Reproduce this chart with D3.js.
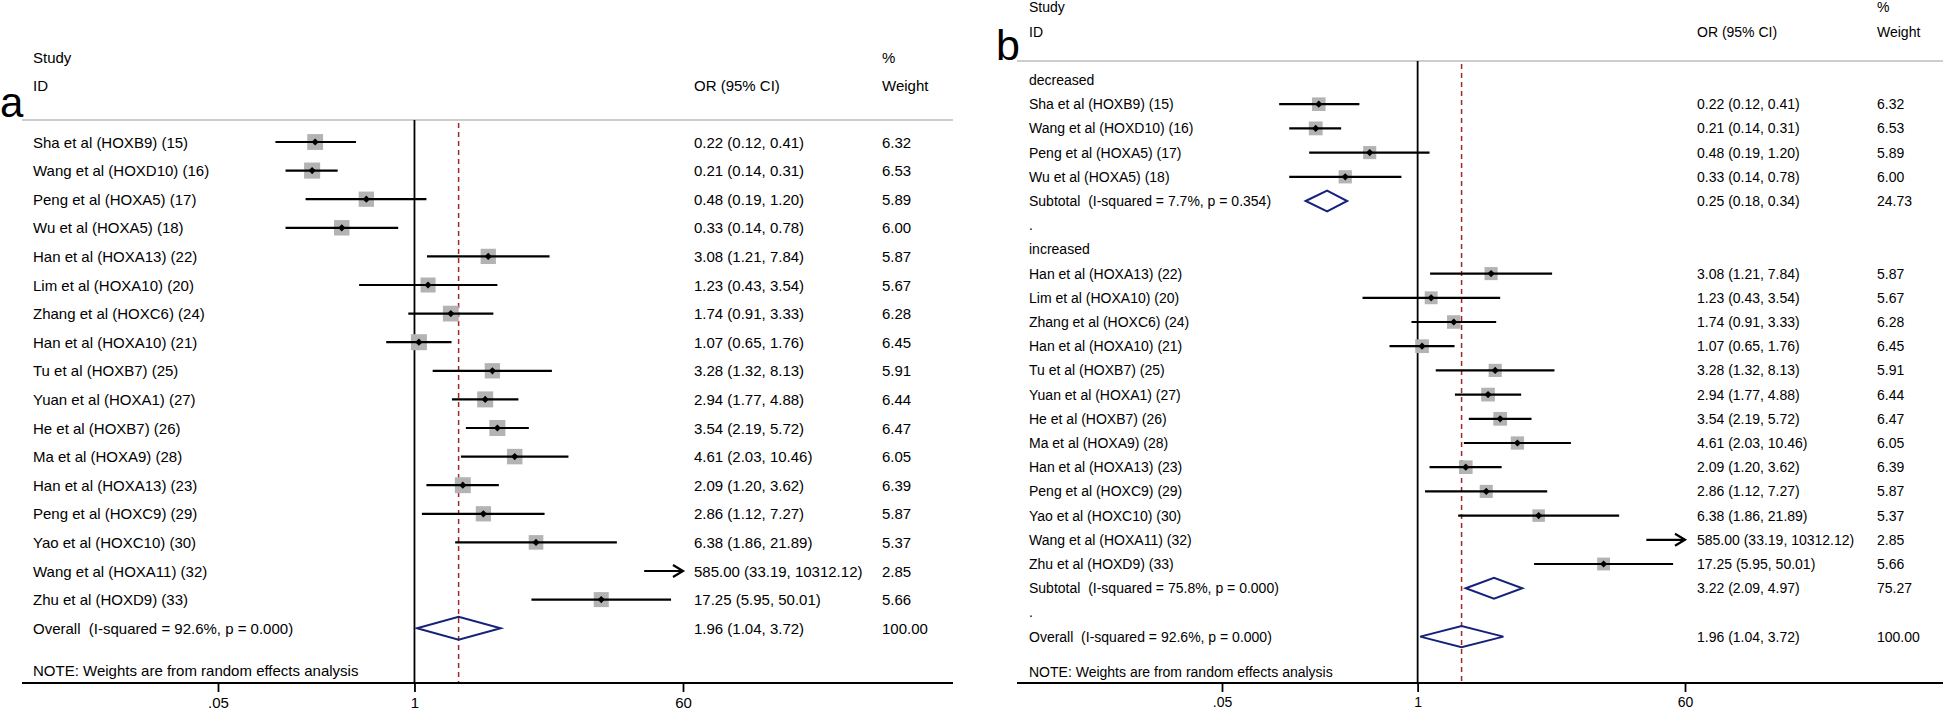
<!DOCTYPE html>
<html>
<head>
<meta charset="utf-8">
<script src="https://cdn.jsdelivr.net/npm/d3@7"></script>
<style>
  html, body { margin: 0; padding: 0; background: #fff; }
  svg text { font-family: "Liberation Sans", Arial, Helvetica, sans-serif; fill: #000; white-space: pre; }
</style>
</head>
<body>
<svg id="chart" width="1946" height="713"></svg>
<script>
// ---------------- DATA ----------------
const studies = [
  "Sha et al (HOXB9) (15)", "Wang et al (HOXD10) (16)", "Peng et al (HOXA5) (17)", "Wu et al (HOXA5) (18)",
  "Han et al (HOXA13) (22)", "Lim et al (HOXA10) (20)", "Zhang et al (HOXC6) (24)", "Han et al (HOXA10) (21)",
  "Tu et al (HOXB7) (25)", "Yuan et al (HOXA1) (27)", "He et al (HOXB7) (26)", "Ma et al (HOXA9) (28)",
  "Han et al (HOXA13) (23)", "Peng et al (HOXC9) (29)", "Yao et al (HOXC10) (30)", "Wang et al (HOXA11) (32)",
  "Zhu et al (HOXD9) (33)"
];
const orValues = [0.22, 0.21, 0.48, 0.33, 3.08, 1.23, 1.74, 1.07, 3.28, 2.94, 3.54, 4.61, 2.09, 2.86, 6.38, 585.00, 17.25];
const ciLower  = [0.12, 0.14, 0.19, 0.14, 1.21, 0.43, 0.91, 0.65, 1.32, 1.77, 2.19, 2.03, 1.20, 1.12, 1.86, 33.19, 5.95];
const ciUpper  = [0.41, 0.31, 1.20, 0.78, 7.84, 3.54, 3.33, 1.76, 8.13, 4.88, 5.72, 10.46, 3.62, 7.27, 21.89, 10312.12, 50.01];
const weights  = [6.32, 6.53, 5.89, 6.00, 5.87, 5.67, 6.28, 6.45, 5.91, 6.44, 6.47, 6.05, 6.39, 5.87, 5.37, 2.85, 5.66];
const studyGroup = ["decreased","decreased","decreased","decreased",
  "increased","increased","increased","increased","increased","increased","increased","increased","increased",
  "increased","increased","increased","increased"];

const groups = ["decreased", "increased"];
const subOR = [0.25, 3.22];
const subLower = [0.18, 2.09];
const subUpper = [0.34, 4.97];
const subWeight = [24.73, 75.27];
const subI2 = ["7.7%", "75.8%"];
const subP = ["0.354", "0.000"];

const overallOR = 1.96, overallLower = 1.04, overallUpper = 3.72, overallWeight = 100.00;
const overallI2 = "92.6%", overallP = "0.000";

const tickValues = [0.05, 1, 60];
const tickLabels = [".05", "1", "60"];
const noteText = "NOTE: Weights are from random effects analysis";

// ---------------- LAYOUT ----------------
const svg = d3.select("#chart");
const f2 = d3.format(".2f");
const orText = (o, l, u) => `${f2(o)} (${f2(l)}, ${f2(u)})`;

const panels = [
  { label: "a", labelX: 0, labelY: 117, labelSize: 42,
    x0: 22, x1: 953, lineY: 120, axisY: 683, textX: 33, orX: 694, wX: 882, fs: 15,
    headY: [57, 85], rowY0: 142, rowStep: 28.6, sqK: 6.3, dh: 11.5, range: [218, 683], noteY: 670,
    grouped: false },
  { label: "b", labelX: 996, labelY: 60, labelSize: 43,
    x0: 1017, x1: 1943, lineY: 61, axisY: 683, textX: 1029, orX: 1697, wX: 1877, fs: 14,
    headY: [7, 32], rowY0: 80, rowStep: 24.2, sqK: 5.4, dh: 10.5, range: [1222, 1685], noteY: 672,
    grouped: true }
];

const navy = "#16217a";
const maroon = "#a3262c";

panels.forEach(P => {
  const g = svg.append("g");
  const x = d3.scaleLog().domain([tickValues[0], tickValues[tickValues.length - 1]]).range(P.range);
  const [dMin, dMax] = x.domain();

  // build rows
  const rows = [];
  if (!P.grouped) {
    studies.forEach((s, i) => rows.push({ type: "study", i }));
    rows.push({ type: "overall" });
  } else {
    groups.forEach((gr, gi) => {
      rows.push({ type: "group", label: gr });
      studies.forEach((s, i) => { if (studyGroup[i] === gr) rows.push({ type: "study", i }); });
      rows.push({ type: "subtotal", gi });
      rows.push({ type: "dot" });
    });
    rows.push({ type: "overall" });
  }
  rows.forEach((r, k) => r.y = P.rowY0 + P.rowStep * k);

  // panel letter
  g.append("text").attr("x", P.labelX).attr("y", P.labelY)
    .style("font-size", P.labelSize + "px").text(P.label);

  // headers
  const txt = (xx, yy, t, anchor) => g.append("text").attr("x", xx).attr("y", yy)
    .attr("dominant-baseline", "central").attr("text-anchor", anchor || "start")
    .style("font-size", P.fs + "px").text(t);
  txt(P.textX, P.headY[0], "Study");
  txt(P.textX, P.headY[1], "ID");
  txt(P.orX, P.headY[1], "OR (95% CI)");
  txt(P.wX, P.headY[0], "%");
  txt(P.wX, P.headY[1], "Weight");

  // header separator
  g.append("line").attr("x1", P.x0).attr("x2", P.x1).attr("y1", P.lineY).attr("y2", P.lineY)
    .attr("stroke", "#bdbdbd").attr("stroke-width", 1.5);

  // null line at 1
  g.append("line").attr("x1", x(1)).attr("x2", x(1)).attr("y1", P.lineY).attr("y2", P.axisY)
    .attr("stroke", "#000").attr("stroke-width", 1.8);

  // overall dashed line
  g.append("line").attr("x1", x(overallOR)).attr("x2", x(overallOR))
    .attr("y1", P.lineY + 3).attr("y2", P.axisY)
    .attr("stroke", maroon).attr("stroke-width", 1.5).attr("stroke-dasharray", "5,4");

  const diamond = (o, l, u, y) => {
    g.append("path")
      .attr("d", `M${x(l)},${y} L${x(o)},${y - P.dh} L${x(u)},${y} L${x(o)},${y + P.dh} Z`)
      .attr("fill", "none").attr("stroke", navy).attr("stroke-width", 2);
  };

  rows.forEach(r => {
    const y = r.y;
    if (r.type === "study") {
      const i = r.i;
      const o = orValues[i], l = ciLower[i], u = ciUpper[i];
      if (o >= dMin && o <= dMax) {
        const s = P.sqK * Math.sqrt(weights[i]);
        g.append("rect").attr("x", x(o) - s / 2).attr("y", y - s / 2).attr("width", s).attr("height", s)
          .attr("fill", "#b3b3b3");
      }
      const cl = Math.max(l, dMin), cu = Math.min(u, dMax);
      if (cl < cu) {
        g.append("line").attr("x1", x(cl)).attr("x2", x(cu)).attr("y1", y).attr("y2", y)
          .attr("stroke", "#000").attr("stroke-width", 2.2);
      }
      if (u > dMax) {
        const xe = x(dMax);
        g.append("path").attr("d", `M${xe - 10},${y - 6} L${xe},${y} L${xe - 10},${y + 6}`)
          .attr("fill", "none").attr("stroke", "#000").attr("stroke-width", 2.2);
      }
      if (l < dMin) {
        const xs = x(dMin);
        g.append("path").attr("d", `M${xs + 10},${y - 6} L${xs},${y} L${xs + 10},${y + 6}`)
          .attr("fill", "none").attr("stroke", "#000").attr("stroke-width", 2.2);
      }
      if (o >= dMin && o <= dMax) {
        const d = 3.6;
        g.append("path").attr("d", `M${x(o) - d},${y} L${x(o)},${y - d} L${x(o) + d},${y} L${x(o)},${y + d} Z`)
          .attr("fill", "#000");
      }
      txt(P.textX, y, studies[i]);
      txt(P.orX, y, orText(o, l, u));
      txt(P.wX, y, f2(weights[i]));
    } else if (r.type === "group") {
      txt(P.textX, y, r.label);
    } else if (r.type === "dot") {
      txt(P.textX, y, ".");
    } else if (r.type === "subtotal") {
      const gi = r.gi;
      diamond(subOR[gi], subLower[gi], subUpper[gi], y);
      txt(P.textX, y, `Subtotal  (I-squared = ${subI2[gi]}, p = ${subP[gi]})`);
      txt(P.orX, y, orText(subOR[gi], subLower[gi], subUpper[gi]));
      txt(P.wX, y, f2(subWeight[gi]));
    } else if (r.type === "overall") {
      diamond(overallOR, overallLower, overallUpper, y);
      txt(P.textX, y, `Overall  (I-squared = ${overallI2}, p = ${overallP})`);
      txt(P.orX, y, orText(overallOR, overallLower, overallUpper));
      txt(P.wX, y, f2(overallWeight));
    }
  });

  // note
  txt(P.textX, P.noteY, noteText);

  // axis
  g.append("line").attr("x1", P.x0).attr("x2", P.x1).attr("y1", P.axisY).attr("y2", P.axisY)
    .attr("stroke", "#000").attr("stroke-width", 1.8);
  const axis = d3.axisBottom(x).tickValues(tickValues)
    .tickFormat((d, i) => tickLabels[i]).tickSize(9).tickPadding(5);
  const ag = g.append("g").attr("transform", `translate(0,${P.axisY})`).call(axis);
  ag.select(".domain").remove();
  ag.selectAll(".tick line").attr("stroke", "#000").attr("stroke-width", 1.8);
  ag.selectAll(".tick text").attr("fill", "#000")
    .style("font-size", P.fs + "px")
    .style("font-family", "'Liberation Sans', Arial, Helvetica, sans-serif");
});
</script>
</body>
</html>
